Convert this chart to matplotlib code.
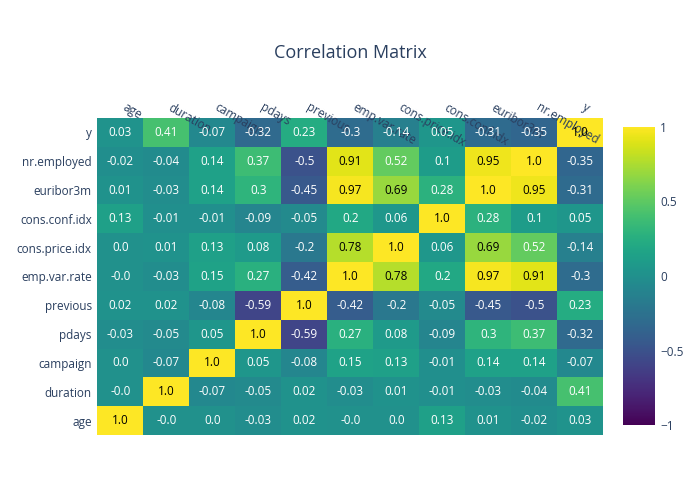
import matplotlib
matplotlib.use("Agg")
import matplotlib.pyplot as plt
import numpy as np

labels = ["age", "duration", "campaign", "pdays", "previous", "emp.var.rate",
          "cons.price.idx", "cons.conf.idx", "euribor3m", "nr.employed", "y"]

# rows bottom -> top, same order as labels
text_rows = [
    ["1.0", "-0.0", "0.0", "-0.03", "0.02", "-0.0", "0.0", "0.13", "0.01", "-0.02", "0.03"],
    ["-0.0", "1.0", "-0.07", "-0.05", "0.02", "-0.03", "0.01", "-0.01", "-0.03", "-0.04", "0.41"],
    ["0.0", "-0.07", "1.0", "0.05", "-0.08", "0.15", "0.13", "-0.01", "0.14", "0.14", "-0.07"],
    ["-0.03", "-0.05", "0.05", "1.0", "-0.59", "0.27", "0.08", "-0.09", "0.3", "0.37", "-0.32"],
    ["0.02", "0.02", "-0.08", "-0.59", "1.0", "-0.42", "-0.2", "-0.05", "-0.45", "-0.5", "0.23"],
    ["-0.0", "-0.03", "0.15", "0.27", "-0.42", "1.0", "0.78", "0.2", "0.97", "0.91", "-0.3"],
    ["0.0", "0.01", "0.13", "0.08", "-0.2", "0.78", "1.0", "0.06", "0.69", "0.52", "-0.14"],
    ["0.13", "-0.01", "-0.01", "-0.09", "-0.05", "0.2", "0.06", "1.0", "0.28", "0.1", "0.05"],
    ["0.01", "-0.03", "0.14", "0.3", "-0.45", "0.97", "0.69", "0.28", "1.0", "0.95", "-0.31"],
    ["-0.02", "-0.04", "0.14", "0.37", "-0.5", "0.91", "0.52", "0.1", "0.95", "1.0", "-0.35"],
    ["0.03", "0.41", "-0.07", "-0.32", "0.23", "-0.3", "-0.14", "0.05", "-0.31", "-0.35", "1.0"],
]
values = np.array([[float(v) for v in row] for row in text_rows])

txt_col = "#2a3f5f"
plt.rcParams["font.family"] = ["Open Sans", "DejaVu Sans"]

fig = plt.figure(figsize=(7, 5), dpi=100)
ax = fig.add_axes([0.139, 0.13, 0.723, 0.634])
n = len(labels)
mesh = ax.pcolormesh(np.arange(n + 1), np.arange(n + 1), values,
                     cmap="viridis", vmin=-1, vmax=1)
for i in range(n):
    for j in range(n):
        c = "black" if values[i, j] > 0.6 else "white"
        ax.text(j + 0.5, i + 0.5, text_rows[i][j], ha="center", va="center",
                fontsize=8.5, color=c)

ax.set_xlim(0, n)
ax.set_ylim(0, n)
ax.set_yticks(np.arange(n) + 0.5)
ax.set_yticklabels(labels, fontsize=8.5, color=txt_col)
ax.set_xticks(np.arange(n) + 0.5)
ax.xaxis.tick_top()
ax.set_xticklabels(labels, fontsize=8.5, color=txt_col, rotation=-30,
                   ha="left", va="bottom", rotation_mode="anchor")
for lab in ax.get_xticklabels():
    lab.set_rotation(-30)
ax.tick_params(length=0, pad=4)
for s in ax.spines.values():
    s.set_visible(False)

fig.text(0.5, 0.895, "Correlation Matrix", ha="center", va="center",
         fontsize=13, color=txt_col)

cax = fig.add_axes([0.89, 0.15, 0.046, 0.596])
cb = fig.colorbar(mesh, cax=cax, ticks=[-1, -0.5, 0, 0.5, 1])
cb.outline.set_visible(False)
cb.ax.set_yticklabels(["\u22121", "\u22120.5", "0", "0.5", "1"])
cb.ax.tick_params(length=0, labelsize=8.5, labelcolor=txt_col)

fig.savefig("out.png", dpi=100)
